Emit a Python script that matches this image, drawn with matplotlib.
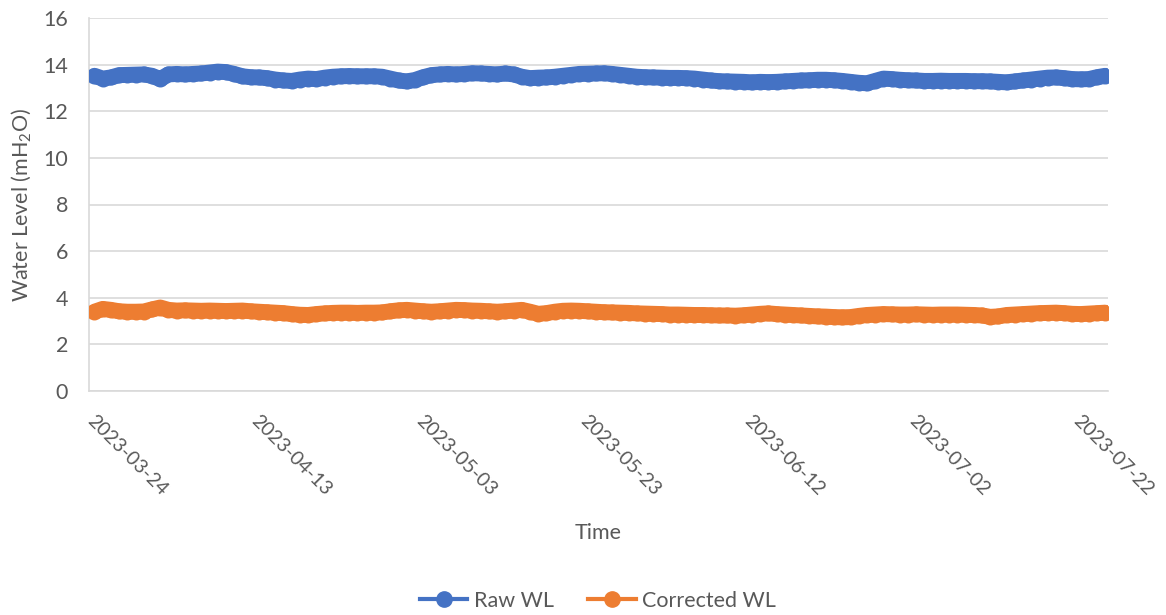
import matplotlib
matplotlib.use("Agg")
import matplotlib.pyplot as plt
import matplotlib.dates as mdates
import matplotlib.transforms as mtransforms
from matplotlib.lines import Line2D
import pandas as pd

plt.rcParams["font.family"] = ["Lato", "DejaVu Sans"]
plt.rcParams["mathtext.fontset"] = "custom"
plt.rcParams["mathtext.rm"] = "Lato"
plt.rcParams["mathtext.it"] = "Lato:italic"

# daily logger readings, mH2O
start = "2023-03-24 16:00"
raw_wl = [
    13.52, 13.40, 13.45, 13.55, 13.56, 13.57, 13.58, 13.52, 13.38, 13.58,
    13.60, 13.58, 13.60, 13.62, 13.66, 13.70, 13.68, 13.60, 13.50, 13.46,
    13.45, 13.42, 13.36, 13.32, 13.30, 13.36, 13.40, 13.38, 13.44, 13.48,
    13.50, 13.51, 13.50, 13.50, 13.50, 13.48, 13.40, 13.32, 13.28, 13.34,
    13.46, 13.55, 13.58, 13.60, 13.58, 13.60, 13.63, 13.62, 13.60, 13.58,
    13.62, 13.58, 13.48, 13.42, 13.44, 13.45, 13.48, 13.52, 13.56, 13.60,
    13.61, 13.62, 13.63, 13.60, 13.56, 13.52, 13.48, 13.46, 13.45, 13.44,
    13.43, 13.43, 13.42, 13.40, 13.36, 13.32, 13.29, 13.28, 13.27, 13.26,
    13.24, 13.26, 13.25, 13.26, 13.28, 13.30, 13.32, 13.33, 13.35, 13.35,
    13.33, 13.30, 13.26, 13.22, 13.20, 13.30, 13.40, 13.38, 13.35, 13.33,
    13.32, 13.30, 13.30, 13.31, 13.30, 13.30, 13.30, 13.29, 13.29, 13.28,
    13.26, 13.24, 13.28, 13.32, 13.36, 13.40, 13.44, 13.45, 13.42, 13.38,
    13.37, 13.38, 13.46, 13.52,
]
corrected_wl = [
    3.40, 3.52, 3.48, 3.42, 3.40, 3.40, 3.41, 3.50, 3.58, 3.48,
    3.45, 3.46, 3.45, 3.44, 3.45, 3.44, 3.43, 3.44, 3.45, 3.42,
    3.40, 3.38, 3.36, 3.34, 3.30, 3.27, 3.26, 3.30, 3.33, 3.35,
    3.36, 3.36, 3.35, 3.36, 3.36, 3.37, 3.42, 3.46, 3.48, 3.45,
    3.42, 3.40, 3.42, 3.45, 3.48, 3.47, 3.45, 3.44, 3.42, 3.40,
    3.42, 3.45, 3.48, 3.40, 3.31, 3.34, 3.40, 3.44, 3.45, 3.44,
    3.42, 3.40, 3.38, 3.37, 3.36, 3.35, 3.33, 3.32, 3.31, 3.30,
    3.28, 3.28, 3.27, 3.26, 3.26, 3.25, 3.24, 3.24, 3.23, 3.25,
    3.28, 3.31, 3.33, 3.30, 3.28, 3.26, 3.24, 3.22, 3.20, 3.19,
    3.17, 3.16, 3.17, 3.22, 3.26, 3.28, 3.30, 3.29, 3.28, 3.28,
    3.29, 3.28, 3.27, 3.28, 3.28, 3.28, 3.27, 3.26, 3.24, 3.18,
    3.20, 3.26, 3.28, 3.30, 3.32, 3.34, 3.35, 3.36, 3.34, 3.31,
    3.30, 3.32, 3.34, 3.36,
]
series_names = ["Raw WL", "Corrected WL"]
series_colors = ["#4472C4", "#ED7D31"]

times = pd.date_range(start, periods=len(raw_wl), freq="D")

GREY = "#595959"

fig = plt.figure(figsize=(11.66, 6.15), dpi=100)
ax = fig.add_axes([89 / 1166, 1 - 391 / 615, 1019 / 1166, 373 / 615])

for vals, color in zip([raw_wl, corrected_wl], series_colors):
    ax.plot(times, vals, color=color, lw=11.5, marker="o", ms=11.5, mew=0,
            solid_capstyle="round", solid_joinstyle="round", zorder=3)

ax.set_ylim(0, 16)
ax.set_yticks(range(0, 17, 2))
ax.set_xlim(pd.Timestamp("2023-03-24"), pd.Timestamp("2023-07-26"))
ax.set_xticks(pd.date_range("2023-03-24", "2023-07-22", freq="20D"))
ax.xaxis.set_major_formatter(mdates.DateFormatter("%Y-%m-%d"))

ax.grid(axis="y", color="#D9D9D9", lw=1.2)
ax.set_axisbelow(True)
for side in ["top", "right"]:
    ax.spines[side].set_visible(False)
for side in ["left", "bottom"]:
    ax.spines[side].set_color("#D9D9D9")
    ax.spines[side].set_linewidth(1.2)

ax.tick_params(axis="both", length=0, colors=GREY)
ax.tick_params(axis="y", pad=15, labelsize=15.5)
ax.tick_params(axis="x", pad=15, labelsize=14)
shift = mtransforms.ScaledTranslation(-5 / 100, 0, fig.dpi_scale_trans)
for lbl in ax.get_xticklabels():
    lbl.set_rotation(-45)
    lbl.set_ha("left")
    lbl.set_va("top")
    lbl.set_transform(lbl.get_transform() + shift)

ax.set_ylabel("Water Level (mH$_2$O)", color=GREY, fontsize=15.5)
ax.yaxis.set_label_coords(-0.055, 0.5)
ax.set_xlabel("Time", color=GREY, fontsize=15.5)
ax.xaxis.set_label_coords(0.5, -0.355)

handles = [Line2D([], [], color=c, lw=3, marker="o", ms=11) for c in series_colors]
fig.legend(handles, series_names, loc="center", bbox_to_anchor=(598 / 1166, 14 / 615),
           ncol=2, frameon=False, fontsize=15.5, labelcolor=GREY,
           handlelength=2.2, handletextpad=0.3, columnspacing=1.6)

fig.savefig("out.png", dpi=100)
